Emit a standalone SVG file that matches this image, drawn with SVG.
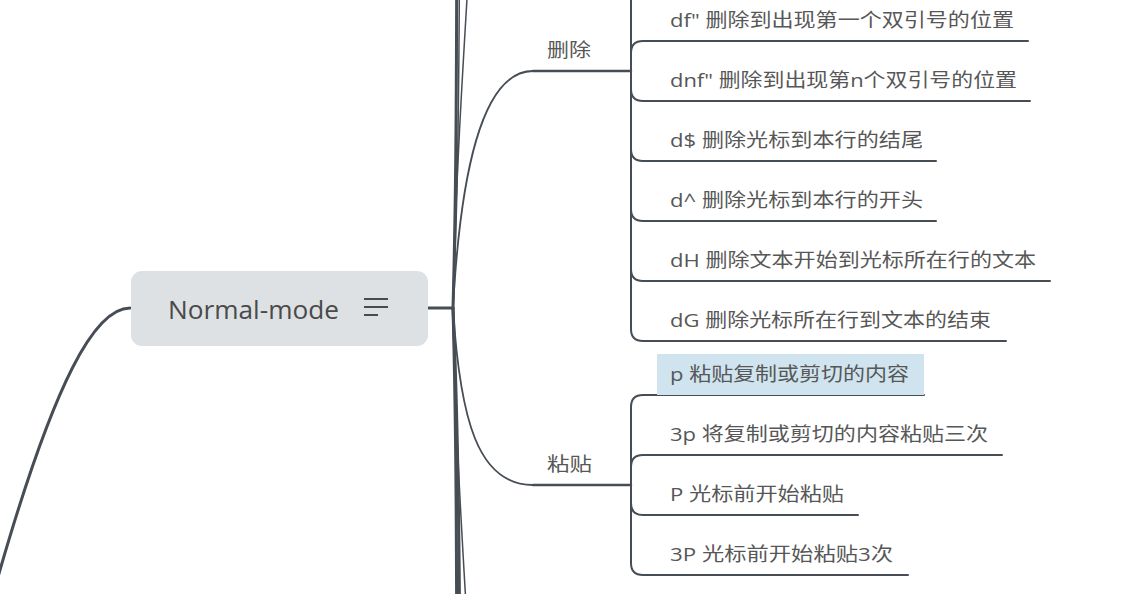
<svg xmlns="http://www.w3.org/2000/svg" width="1138" height="594" viewBox="0 0 1138 594">
<style>
.ln{fill:none;stroke:#474d55;stroke-linecap:round}
.thick{stroke-width:3}
.mid{stroke-width:2}
.lab{stroke-width:2.5}
.cur{stroke-width:1.8}
.thin{stroke-width:1.5}
.t{font-family:"Open Sans","Noto Sans CJK SC",sans-serif;font-size:19px;fill:#575757}
.root{font-family:"Open Sans","Noto Sans CJK SC",sans-serif;font-size:25px;fill:#4a4a4a}
</style>
<rect width="1138" height="594" fill="#ffffff"/>
<g id="connectors">
<path class="ln thick" d="M130,308 C95,308 55,380 0,570 L-20,640"/>
<path class="ln thick" d="M428,308 L453,308"/>
<path class="ln thick" d="M453,308 C456,200 457,100 457,-300"/>
<path class="ln thin" d="M453,308 C458,200 460,80 460,-300"/>
<path class="ln thin" d="M453,308 C455,200 461,90 475,-130"/>
<path class="ln thick" d="M453,308 C456,420 457,520 457,900"/>
<path class="ln thick" d="M453,308 C458,420 460,540 461,900"/>
<path class="ln thin" d="M453,308 C455,420 461,530 475,750"/>
<path class="ln cur" d="M453,308 C460,180 480,71 533,71"/>
<path class="ln cur" d="M453,308 C460,420 478,485 533,485"/>
<path class="ln lab" d="M533,71 L631,71"/>
<path class="ln lab" d="M533,485 L631,485"/>
<path class="ln mid" d="M631,-20 L631,329 Q631,341 643,341 L1006,341"/>
<path class="ln mid" d="M631,53 Q631,41 643,41 L1028,41"/>
<path class="ln mid" d="M631,89 Q631,101 643,101 L1030,101"/>
<path class="ln mid" d="M631,149 Q631,161 643,161 L936,161"/>
<path class="ln mid" d="M631,209 Q631,221 643,221 L936,221"/>
<path class="ln mid" d="M631,269 Q631,281 643,281 L1050,281"/>
<path class="ln mid" d="M631,563 L631,407 Q631,395 643,395 L924,395"/>
<path class="ln mid" d="M631,467 Q631,455 643,455 L1002,455"/>
<path class="ln mid" d="M631,503 Q631,515 643,515 L858,515"/>
<path class="ln mid" d="M631,563 Q631,575 643,575 L908,575"/>
</g>
<g id="node-normal-mode">
<rect x="131" y="271" width="297" height="75" rx="11" fill="#dde1e4"/>
<text class="root" x="168" y="319" textLength="171" lengthAdjust="spacingAndGlyphs">Normal-mode</text>
<path d="M364,299 H388 M364,307 H388 M364,315 H378" stroke="#4a4a4a" stroke-width="2" fill="none"/>
</g>
<g id="node-delete">
<text class="t" x="547" y="57" textLength="44" lengthAdjust="spacingAndGlyphs">删除</text>
</g>
<g id="node-df"><text class="t" x="670" y="27" textLength="344" lengthAdjust="spacingAndGlyphs">df" 删除到出现第一个双引号的位置</text></g>
<g id="node-dnf"><text class="t" x="670" y="87" textLength="347" lengthAdjust="spacingAndGlyphs">dnf" 删除到出现第n个双引号的位置</text></g>
<g id="node-d-dollar"><text class="t" x="670" y="147" textLength="253" lengthAdjust="spacingAndGlyphs">d$ 删除光标到本行的结尾</text></g>
<g id="node-d-caret"><text class="t" x="670" y="207" textLength="253" lengthAdjust="spacingAndGlyphs">d^ 删除光标到本行的开头</text></g>
<g id="node-dH"><text class="t" x="670" y="267" textLength="366" lengthAdjust="spacingAndGlyphs">dH 删除文本开始到光标所在行的文本</text></g>
<g id="node-dG"><text class="t" x="670" y="327" textLength="321" lengthAdjust="spacingAndGlyphs">dG 删除光标所在行到文本的结束</text></g>
<g id="node-paste">
<text class="t" x="547" y="471" textLength="45" lengthAdjust="spacingAndGlyphs">粘贴</text>
</g>
<g id="node-p">
<rect x="657" y="354" width="267" height="41" fill="#cfe4ef"/>
<text class="t" x="670" y="381" textLength="239" lengthAdjust="spacingAndGlyphs">p 粘贴复制或剪切的内容</text>
</g>
<g id="node-3p"><text class="t" x="670" y="441" textLength="318" lengthAdjust="spacingAndGlyphs">3p 将复制或剪切的内容粘贴三次</text></g>
<g id="node-P"><text class="t" x="670" y="501" textLength="174" lengthAdjust="spacingAndGlyphs">P 光标前开始粘贴</text></g>
<g id="node-3P"><text class="t" x="670" y="561" textLength="223" lengthAdjust="spacingAndGlyphs">3P 光标前开始粘贴3次</text></g>
</svg>
